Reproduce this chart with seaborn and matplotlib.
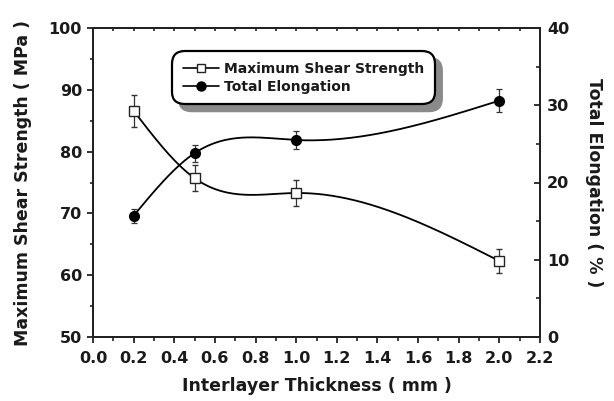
import numpy as np
import pandas as pd
import matplotlib
matplotlib.use("Agg")
import matplotlib.pyplot as plt
import seaborn as sns
from matplotlib.ticker import MultipleLocator
from matplotlib.lines import Line2D

# ---- data ----
thickness = [0.2, 0.5, 1.0, 2.0]
shear_strength = [86.6, 75.7, 73.3, 62.3]
shear_err = [2.6, 2.1, 2.1, 1.9]
elongation = [15.7, 23.8, 25.5, 30.6]
elong_err = [0.9, 1.1, 1.2, 1.5]

x_label = "Interlayer Thickness ( mm )"
y1_label = "Maximum Shear Strength ( MPa )"
y2_label = "Total Elongation ( % )"
legend_labels = ["Maximum Shear Strength", "Total Elongation"]


def natural_spline(x, y, n=200):
    x = np.asarray(x, float); y = np.asarray(y, float)
    k = len(x); h = np.diff(x)
    A = np.zeros((k, k)); b = np.zeros(k)
    A[0, 0] = A[-1, -1] = 1
    for i in range(1, k - 1):
        A[i, i - 1] = h[i - 1]; A[i, i] = 2 * (h[i - 1] + h[i]); A[i, i + 1] = h[i]
        b[i] = 3 * ((y[i + 1] - y[i]) / h[i] - (y[i] - y[i - 1]) / h[i - 1])
    c = np.linalg.solve(A, b)
    xs = np.linspace(x[0], x[-1], n); ys = np.empty_like(xs)
    for j, xv in enumerate(xs):
        i = min(np.searchsorted(x, xv, side="right") - 1, k - 2)
        d = xv - x[i]
        bb = (y[i + 1] - y[i]) / h[i] - h[i] * (2 * c[i] + c[i + 1]) / 3
        dd = (c[i + 1] - c[i]) / (3 * h[i])
        ys[j] = y[i] + bb * d + c[i] * d ** 2 + dd * d ** 3
    return xs, ys


sns.set_style("ticks")
plt.rcParams["font.family"] = ["DejaVu Sans"]
plt.rcParams["font.weight"] = "bold"
txt = "#1a1a1a"

fig = plt.figure(figsize=(6.14, 4.01), dpi=100)
ax = fig.add_axes([93 / 614, 1 - 337 / 401, 447 / 614, 309 / 401])
ax2 = ax.twinx()

sx, sy = natural_spline(thickness, shear_strength)
ex, ey = natural_spline(thickness, elongation)
sns.lineplot(x=sx, y=sy, ax=ax, color="black", lw=1.3, sort=False)
sns.lineplot(x=ex, y=ey, ax=ax2, color="black", lw=1.3, sort=False)

ax.errorbar(thickness, shear_strength, yerr=shear_err, fmt="s", ms=6.5,
            mfc="white", mec="#222222", mew=1.0, ecolor="#333333",
            elinewidth=0.9, capsize=2.3, capthick=0.9, zorder=5)
ax2.errorbar(thickness, elongation, yerr=elong_err, fmt="o", ms=7,
             mfc="black", mec="black", ecolor="#333333",
             elinewidth=0.9, capsize=2.3, capthick=0.9, zorder=5)

ax.set_xlim(0.0, 2.2)
ax.set_ylim(50, 100)
ax2.set_ylim(0, 40)

ax.xaxis.set_major_locator(MultipleLocator(0.2))
ax.xaxis.set_minor_locator(MultipleLocator(0.1))
ax.yaxis.set_major_locator(MultipleLocator(10))
ax.yaxis.set_minor_locator(MultipleLocator(5))
ax2.yaxis.set_major_locator(MultipleLocator(10))
ax2.yaxis.set_minor_locator(MultipleLocator(5))
ax.xaxis.set_major_formatter(matplotlib.ticker.FormatStrFormatter("%.1f"))

for a in (ax, ax2):
    for s in a.spines.values():
        s.set_linewidth(1.4)
        s.set_color("#222222")

ax.tick_params(axis="x", which="major", direction="out", length=4, width=1.3,
               labelsize=11.5, colors="#222222", labelcolor=txt, pad=6)
ax.tick_params(axis="x", which="minor", direction="out", length=3, width=1.2,
               colors="#222222")
ax.tick_params(axis="y", which="major", direction="out", length=4, width=1.3,
               labelsize=11.5, colors="#222222", labelcolor=txt, pad=4)
ax.tick_params(axis="y", which="minor", direction="out", length=2.5, width=1.2,
               colors="#222222")
ax2.tick_params(axis="y", which="major", direction="in", length=4, width=1.3,
                labelsize=11.5, colors="#222222", labelcolor=txt, pad=5)
ax2.tick_params(axis="y", which="minor", direction="in", length=3, width=1.2,
                colors="#222222")

sec = ax.secondary_xaxis("top")
sec.xaxis.set_major_locator(MultipleLocator(0.1))
sec.tick_params(axis="x", which="major", direction="in", length=2.5, width=1.2,
                labeltop=False, colors="#222222")
sec.spines["top"].set_linewidth(1.4)
sec.spines["top"].set_color("#222222")

for lab in ax.get_xticklabels() + ax.get_yticklabels() + ax2.get_yticklabels():
    lab.set_fontweight("bold")

ax.set_xlabel(x_label, fontsize=12.5, fontweight="bold", color=txt, labelpad=8)
ax.set_ylabel(y1_label, fontsize=12.5, fontweight="bold", color=txt, labelpad=12)
ax2.set_ylabel(y2_label, fontsize=12.5, fontweight="bold", color=txt,
               rotation=270, labelpad=24)

handles = [
    Line2D([], [], color="black", lw=1.2, marker="s", ms=6, mfc="white",
           mec="#222222", mew=1.0),
    Line2D([], [], color="black", lw=1.2, marker="o", ms=6.5, mfc="black"),
]
leg = ax.legend(handles, legend_labels, loc="upper left",
                bbox_to_anchor=(0.177, 0.925), frameon=True, fancybox=True,
                prop={"weight": "bold", "size": 10}, handlelength=2.6,
                handletextpad=0.4, borderpad=0.75, labelspacing=0.3,
                borderaxespad=0,
                shadow={"ox": 5, "oy": -5, "color": "#8a8a8a", "alpha": 1})
fr = leg.get_frame()
fr.set_edgecolor("black")
fr.set_linewidth(1.6)
fr.set_facecolor("white")
fr.set_alpha(1)
fr.set_boxstyle("round,pad=0,rounding_size=0.9")
for t in leg.get_texts():
    t.set_color(txt)

fig.savefig("out.png", dpi=100)
